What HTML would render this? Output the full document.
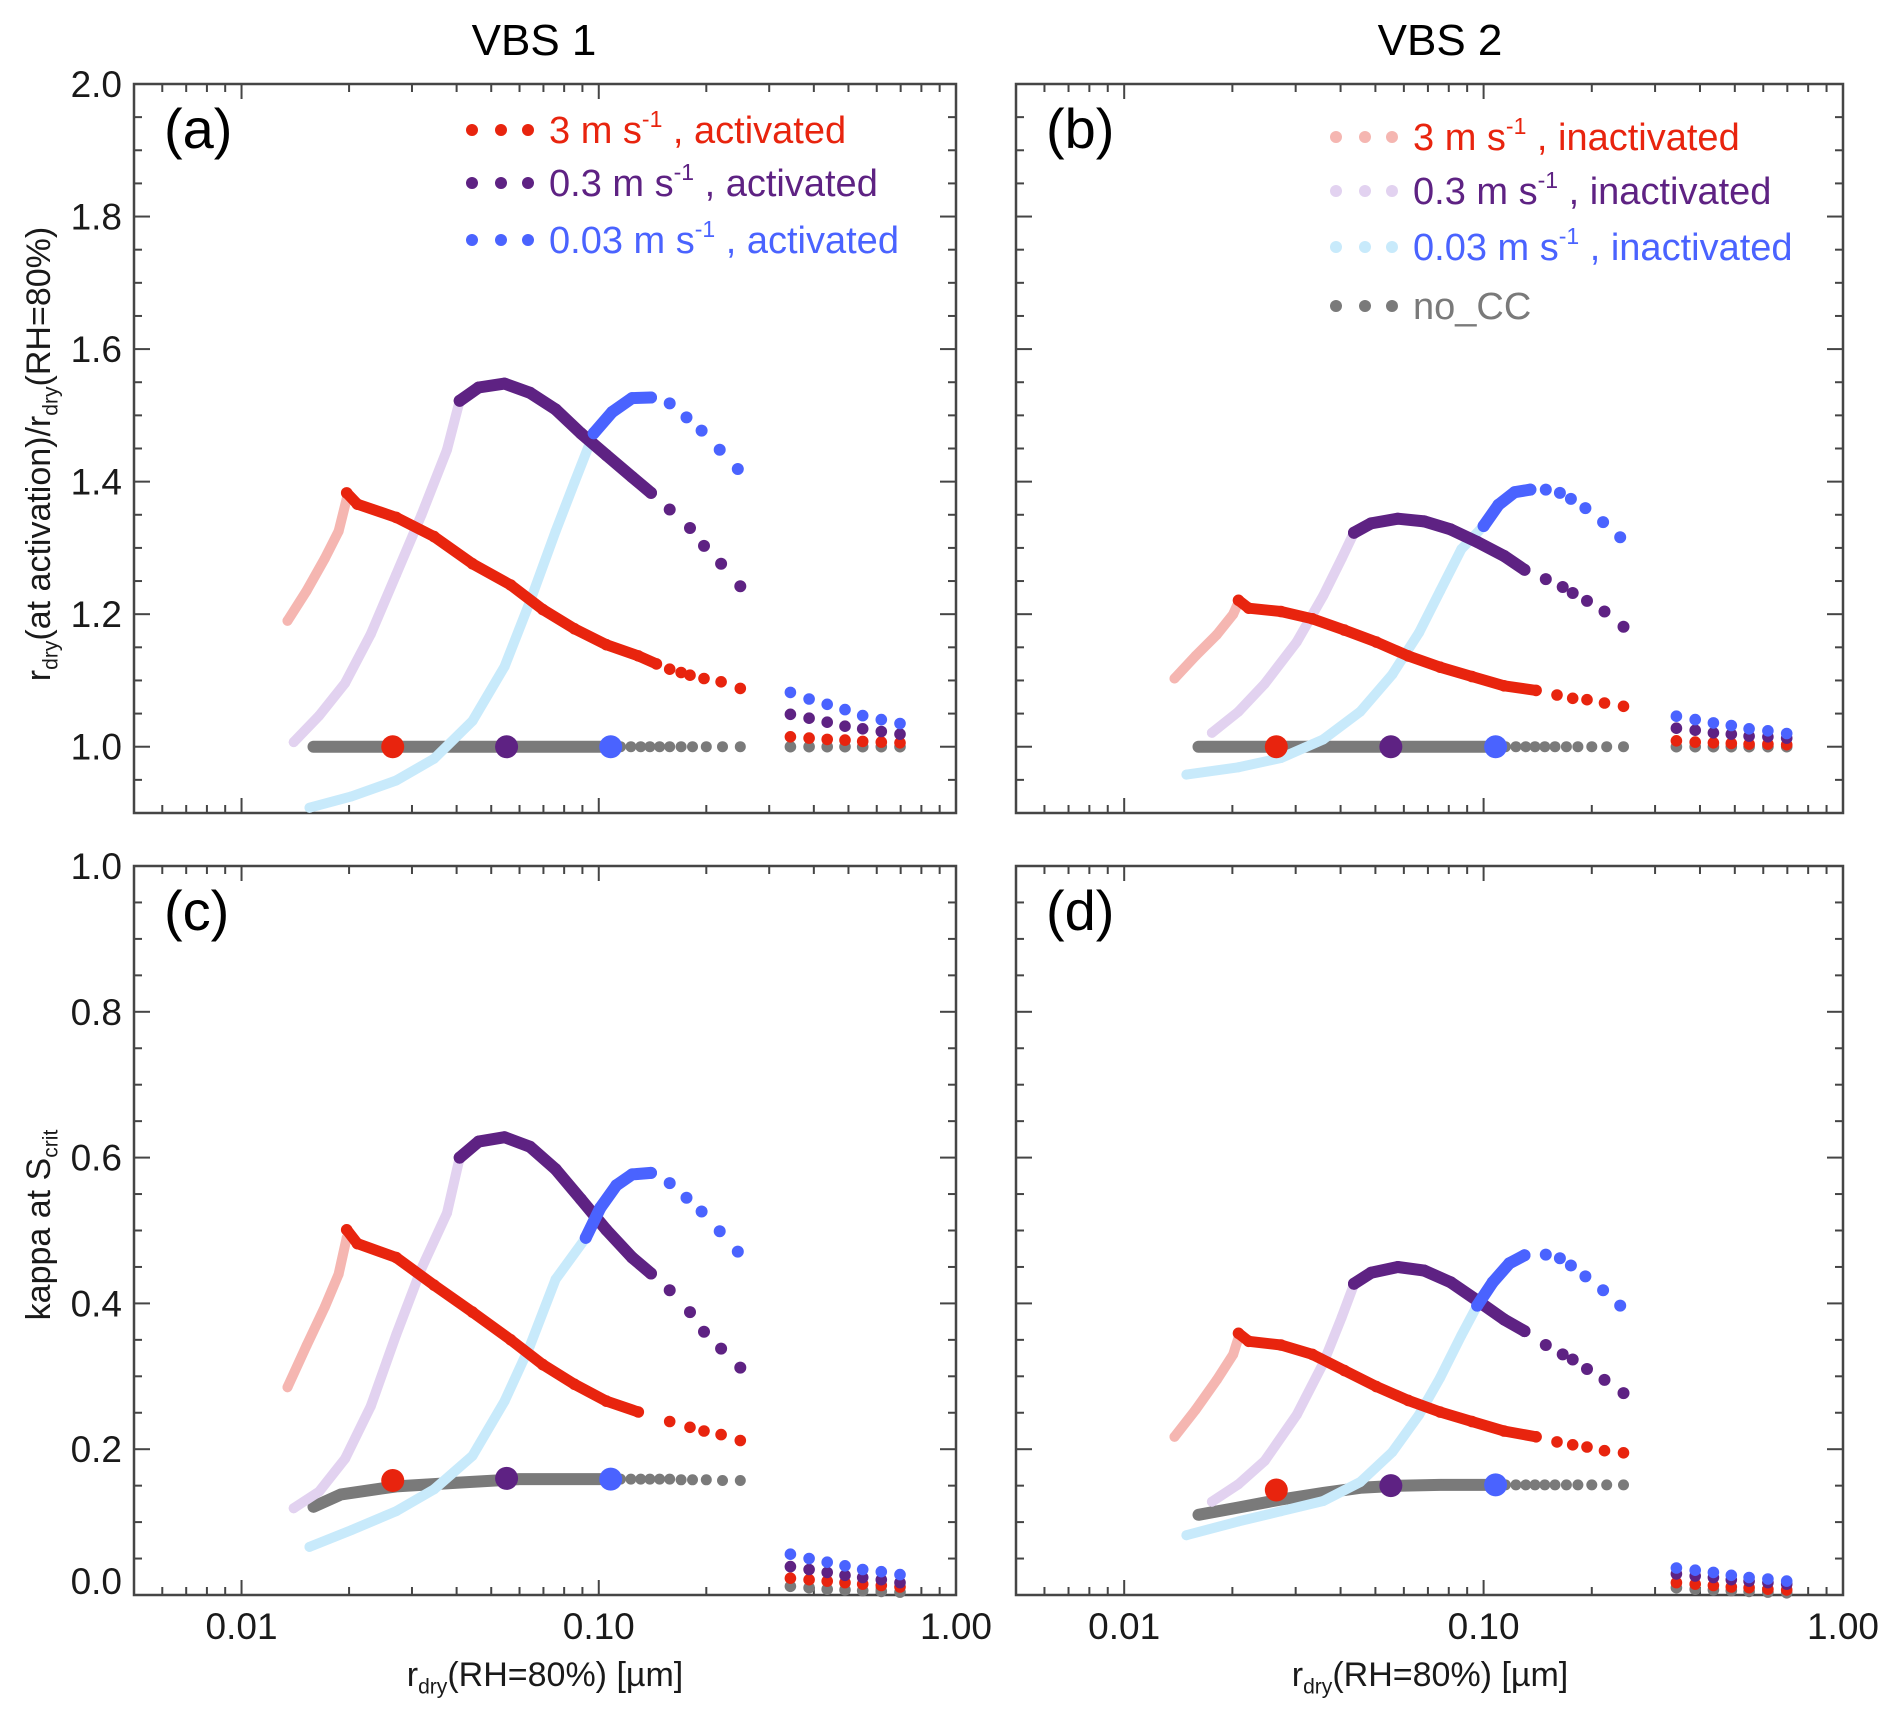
<!DOCTYPE html>
<html><head><meta charset="utf-8"><style>
html,body{margin:0;padding:0;background:#fff;}
#wrap{position:relative;width:1892px;height:1713px;overflow:hidden;font-family:"Liberation Sans",Arial,sans-serif;}
svg{position:absolute;left:0;top:0;}
</style></head><body>
<div id="wrap">
<svg id="chart" width="1892" height="1713" viewBox="0 0 1892 1713"></svg>
</div>
<script>
// ---------- DATA ----------
const xTicksLabels = ["0.01","0.10","1.00"];
const xTickVals = [0.01,0.1,1.0];
const yTicksA = [1.0,1.2,1.4,1.6,1.8,2.0];
const yTickLabelsA = ["1.0","1.2","1.4","1.6","1.8","2.0"];
const yTicksC = [0.0,0.2,0.4,0.6,0.8,1.0];
const yTickLabelsC = ["0.0","0.2","0.4","0.6","0.8","1.0"];
const xRight = [0.344,0.388,0.436,0.489,0.548,0.618,0.697];
const markerX = [0.0265,0.0552,0.108];

// Panel (a)
const aRedIn = [[0.01345,1.19],[0.0152,1.235],[0.0171,1.284],[0.0187,1.325],[0.0197,1.374]];
const aRedAct = [[0.0197,1.383],[0.0211,1.366],[0.0271,1.346],[0.0346,1.317],[0.0443,1.276],[0.0567,1.244],[0.0697,1.207],[0.0855,1.178],[0.105,1.154],[0.129,1.137],[0.145,1.125],[0.158,1.117],[0.170,1.112],[0.180,1.108],[0.197,1.103],[0.220,1.098],[0.249,1.088]];
const aPurIn = [[0.0140,1.007],[0.0165,1.047],[0.0195,1.096],[0.0230,1.17],[0.0271,1.26],[0.0319,1.35],[0.0376,1.448],[0.0408,1.522]];
const aPurAct = [[0.0408,1.522],[0.0461,1.542],[0.0545,1.548],[0.0642,1.534],[0.0757,1.509],[0.0891,1.473],[0.105,1.44],[0.124,1.407],[0.140,1.383],[0.158,1.358],[0.180,1.33],[0.197,1.303],[0.220,1.276],[0.249,1.242]];
const aBluIn = [[0.0155,0.908],[0.0203,0.925],[0.0271,0.949],[0.0346,0.982],[0.0443,1.039],[0.0545,1.121],[0.0642,1.219],[0.0757,1.325],[0.0855,1.399],[0.0968,1.473]];
const aBluAct = [[0.0968,1.473],[0.109,1.505],[0.124,1.526],[0.140,1.527],[0.158,1.518],[0.176,1.497],[0.194,1.477],[0.218,1.448],[0.245,1.419]];
const aGray = [[0.0159,1.0],[0.108,1.0],[0.115,1.0],[0.123,1.0],[0.131,1.0],[0.139,1.0],[0.148,1.0],[0.158,1.0],[0.170,1.0],[0.183,1.0],[0.200,1.0],[0.222,1.0],[0.249,1.0]];
const aMarkY = [1.0,1.0,1.0];
const aRightBlue = [1.082,1.072,1.064,1.056,1.047,1.041,1.035];
const aRightPur = [1.049,1.043,1.037,1.031,1.027,1.023,1.019];
const aRightRed = [1.015,1.013,1.011,1.010,1.008,1.007,1.006];
const aRightGray = [1.0,1.0,1.0,1.0,1.0,1.0,1.0];

// Panel (b)
const bRedIn = [[0.0138,1.103],[0.0158,1.137],[0.0181,1.169],[0.0201,1.2],[0.0208,1.218]];
const bRedAct = [[0.0208,1.221],[0.0222,1.209],[0.0273,1.204],[0.0334,1.193],[0.0410,1.176],[0.0503,1.158],[0.0617,1.137],[0.0757,1.12],[0.0928,1.106],[0.114,1.092],[0.140,1.085],[0.160,1.078],[0.177,1.073],[0.194,1.071],[0.217,1.066],[0.245,1.061]];
const bPurIn = [[0.01754,1.021],[0.0208,1.053],[0.0246,1.095],[0.0302,1.158],[0.0358,1.228],[0.0403,1.284],[0.0436,1.323]];
const bPurAct = [[0.0436,1.323],[0.0486,1.337],[0.0577,1.344],[0.0684,1.34],[0.081,1.328],[0.096,1.309],[0.114,1.288],[0.130,1.267],[0.149,1.253],[0.166,1.241],[0.177,1.232],[0.194,1.22],[0.217,1.204],[0.245,1.181]];
const bBluIn = [[0.0149,0.958],[0.0208,0.969],[0.0273,0.983],[0.0358,1.011],[0.0454,1.053],[0.0557,1.109],[0.0661,1.172],[0.0757,1.235],[0.0867,1.298],[0.100,1.333]];
const bBluAct = [[0.100,1.333],[0.110,1.365],[0.122,1.384],[0.135,1.388],[0.149,1.388],[0.163,1.383],[0.175,1.374],[0.192,1.36],[0.215,1.339],[0.240,1.316]];
const bGray = [[0.0161,1.0],[0.108,1.0],[0.115,1.0],[0.123,1.0],[0.131,1.0],[0.139,1.0],[0.148,1.0],[0.158,1.0],[0.170,1.0],[0.183,1.0],[0.200,1.0],[0.220,1.0],[0.245,1.0]];
const bMarkY = [1.0,1.0,1.0];
const bRightBlue = [1.046,1.041,1.036,1.032,1.027,1.024,1.020];
const bRightPur = [1.028,1.025,1.021,1.019,1.016,1.015,1.013];
const bRightRed = [1.009,1.007,1.006,1.005,1.004,1.004,1.003];
const bRightGray = [1.0,1.0,1.0,1.0,1.0,1.0,1.0];

// Panel (c)
const cRedIn = [[0.01345,0.285],[0.0152,0.342],[0.0171,0.395],[0.0187,0.44],[0.0197,0.49]];
const cRedAct = [[0.0197,0.501],[0.0211,0.482],[0.0271,0.463],[0.0346,0.425],[0.0443,0.388],[0.0567,0.35],[0.0697,0.316],[0.0855,0.289],[0.105,0.266],[0.129,0.251],[0.158,0.238],[0.180,0.23],[0.197,0.225],[0.220,0.22],[0.249,0.212]];
const cPurIn = [[0.0140,0.119],[0.0165,0.142],[0.0195,0.187],[0.0230,0.259],[0.0271,0.357],[0.0319,0.448],[0.0376,0.524],[0.0408,0.6]];
const cPurAct = [[0.0408,0.6],[0.0461,0.622],[0.0545,0.628],[0.0642,0.615],[0.0757,0.584],[0.0891,0.543],[0.105,0.501],[0.124,0.463],[0.140,0.441],[0.158,0.418],[0.180,0.388],[0.197,0.361],[0.220,0.338],[0.249,0.312]];
const cBluIn = [[0.0155,0.066],[0.0203,0.089],[0.0271,0.115],[0.0346,0.145],[0.0443,0.191],[0.0545,0.266],[0.0642,0.342],[0.0757,0.433],[0.0920,0.49]];
const cBluAct = [[0.0920,0.49],[0.101,0.531],[0.112,0.562],[0.124,0.577],[0.140,0.579],[0.158,0.565],[0.176,0.545],[0.194,0.526],[0.218,0.499],[0.245,0.471]];
const cGray = [[0.0159,0.121],[0.0190,0.138],[0.0271,0.149],[0.040,0.154],[0.060,0.159],[0.108,0.159],[0.115,0.159],[0.123,0.159],[0.131,0.159],[0.139,0.159],[0.148,0.159],[0.158,0.159],[0.170,0.158],[0.183,0.158],[0.200,0.158],[0.222,0.157],[0.249,0.157]];
const cMarkY = [0.157,0.160,0.159];
const cRightBlue = [0.056,0.050,0.045,0.040,0.035,0.032,0.028];
const cRightPur = [0.039,0.035,0.031,0.027,0.024,0.021,0.017];
const cRightRed = [0.023,0.021,0.019,0.017,0.015,0.013,0.011];
const cRightGray = [0.012,0.010,0.008,0.007,0.006,0.005,0.004];

// Panel (d)
const dRedIn = [[0.0138,0.217],[0.0158,0.254],[0.0181,0.295],[0.0201,0.33],[0.0208,0.353]];
const dRedAct = [[0.0208,0.359],[0.0222,0.348],[0.0273,0.343],[0.0334,0.33],[0.0410,0.308],[0.0503,0.286],[0.0617,0.267],[0.0757,0.251],[0.0928,0.238],[0.114,0.225],[0.140,0.217],[0.160,0.21],[0.177,0.206],[0.194,0.203],[0.217,0.198],[0.245,0.195]];
const dPurIn = [[0.01754,0.128],[0.0208,0.152],[0.0246,0.184],[0.0302,0.247],[0.0358,0.318],[0.0403,0.381],[0.0436,0.426]];
const dPurAct = [[0.0436,0.427],[0.0486,0.442],[0.0577,0.45],[0.0684,0.445],[0.081,0.429],[0.096,0.404],[0.114,0.378],[0.130,0.362],[0.149,0.343],[0.166,0.33],[0.177,0.323],[0.194,0.31],[0.217,0.295],[0.245,0.277]];
const dBluIn = [[0.0149,0.082],[0.0208,0.101],[0.0273,0.115],[0.0358,0.129],[0.0454,0.155],[0.0557,0.196],[0.0661,0.247],[0.0757,0.298],[0.0867,0.356],[0.096,0.397]];
const dBluAct = [[0.096,0.397],[0.106,0.429],[0.118,0.455],[0.130,0.466],[0.149,0.467],[0.163,0.462],[0.175,0.452],[0.192,0.437],[0.215,0.418],[0.240,0.397]];
const dGray = [[0.0161,0.110],[0.0208,0.120],[0.0273,0.131],[0.0358,0.140],[0.0454,0.147],[0.058,0.150],[0.0757,0.151],[0.108,0.151],[0.115,0.151],[0.123,0.151],[0.131,0.151],[0.139,0.151],[0.148,0.151],[0.158,0.151],[0.170,0.151],[0.183,0.151],[0.200,0.151],[0.220,0.151],[0.245,0.151]];
const dMarkY = [0.144,0.150,0.151];
const dRightBlue = [0.037,0.034,0.031,0.027,0.024,0.022,0.019];
const dRightPur = [0.029,0.026,0.024,0.021,0.019,0.017,0.015];
const dRightRed = [0.017,0.015,0.013,0.011,0.010,0.008,0.007];
const dRightGray = [0.010,0.008,0.007,0.006,0.005,0.004,0.003];

// ---------- RENDER ----------
const NS = "http://www.w3.org/2000/svg";
const svg = document.getElementById("chart");
const X0 = 0.005, X1 = 1.0;
const C = {red:"#e8240e", pur:"#5e2283", blu:"#4a63ff", pred:"#f5b6b1", ppur:"#e2d2f0", pblu:"#c8eafb", gray:"#7a7a7a", axis:"#454545"};

function mk(tag, attrs, parent){
  const e = document.createElementNS(NS, tag);
  for (const k in attrs) e.setAttribute(k, attrs[k]);
  (parent||svg).appendChild(e);
  return e;
}
function sx(p,x){ return p.l + (Math.log10(x)-Math.log10(X0))/(Math.log10(X1)-Math.log10(X0))*(p.r-p.l); }
function sy(p,y){ return p.b - (y-p.y0)/(p.y1-p.y0)*(p.b-p.t); }

function drawSeries(p, g, data, color, tail, w, r, name){
  const sg = mk("g", {}, g);
  
  
  let pts = [];
  for (let i=0;i<data.length;i++){
    if (data[i][0] <= tail) pts.push(sx(p,data[i][0]).toFixed(1)+","+sy(p,data[i][1]).toFixed(1));
  }
  if (pts.length>1){
    const pl = mk("polyline", {points:pts.join(" "), fill:"none", stroke:color, "stroke-width":w, "stroke-linecap":"round", "stroke-linejoin":"round"}, sg);
    
    
  }
  for (let i=0;i<data.length;i++){
    const c = mk("circle", {cx:sx(p,data[i][0]).toFixed(1), cy:sy(p,data[i][1]).toFixed(1), r:r, fill:color}, sg);
    
    
  }
}
function drawRight(p, g, ys, color, name){
  for (let i=0;i<xRight.length;i++){
    const c = mk("circle", {cx:sx(p,xRight[i]).toFixed(1), cy:sy(p,ys[i]).toFixed(1), r:5.8, fill:color}, g);
    
    
  }
}
function text(x,y,str,size,anchor,parent,name,extra){
  const t = mk("text", Object.assign({x:x,y:y,"font-size":size,"text-anchor":anchor||"middle","font-family":"Liberation Sans, Arial, sans-serif",fill:"#1a1a1a"}, extra||{}), parent);
  t.textContent = str;
  
  
  return t;
}

function drawPanel(p, label, S, yt, ytl, showX){
  const g = mk("g", {});
  
  
  const fr = mk("rect", {x:p.l, y:p.t, width:p.r-p.l, height:p.b-p.t, fill:"none", stroke:C.axis, "stroke-width":2.5}, g);
  
  
  for (let dec=-3; dec<=0; dec++){
    for (let m=1;m<=9;m++){
      const v = m*Math.pow(10,dec);
      if (v < X0*0.999 || v > X1*1.001) continue;
      const X = sx(p,v), L = (m===1)?15:8;
      const t1 = mk("line",{x1:X,x2:X,y1:p.b,y2:p.b-L,stroke:C.axis,"stroke-width":2},g);
      
      
      const t2 = mk("line",{x1:X,x2:X,y1:p.t,y2:p.t+L,stroke:C.axis,"stroke-width":2},g);
      
      
    }
  }
  for (let k=0;k<=Math.round((p.y1-p.y0)/0.05);k++){
    const v = p.y0 + k*0.05;
    const isMaj = Math.abs(v*5 - Math.round(v*5))<1e-6;
    const Y = sy(p,v), L = isMaj?16:8;
    const t1 = mk("line",{x1:p.l,x2:p.l+L,y1:Y,y2:Y,stroke:C.axis,"stroke-width":2},g);
    
    
    const t2 = mk("line",{x1:p.r,x2:p.r-L,y1:Y,y2:Y,stroke:C.axis,"stroke-width":2},g);
    
    
  }
  if (yt){
    for (let i=0;i<yt.length;i++){
      let Y = sy(p,yt[i]) + 13;
      if (yt[i]===0) Y -= 14;
      text(p.l-12, Y, ytl[i], 37, "end", g, 'y-tick-label');
    }
  }
  if (showX){
    for (let i=0;i<xTickVals.length;i++){
      text(sx(p,xTickVals[i]), p.b+44, xTicksLabels[i], 37, "middle", g, 'x-tick-label');
    }
  }
  drawSeries(p,g,S.gray,C.gray,S.grayTail,12,5.5,'no-cc-series');
  drawSeries(p,g,S.redIn,C.pred,1,10,5,'red-3ms-inactivated');
  drawSeries(p,g,S.purIn,C.ppur,1,10,5,'purple-03ms-inactivated');
  drawSeries(p,g,S.bluIn,C.pblu,1,10,5,'blue-003ms-inactivated');
  drawSeries(p,g,S.redAct,C.red,0.15,11,5.8,'red-3ms-activated');
  drawSeries(p,g,S.purAct,C.pur,0.145,12,6,'purple-03ms-activated');
  drawSeries(p,g,S.bluAct,C.blu,0.145,12,6,'blue-003ms-activated');
  drawRight(p,g,S.rGray,C.gray,'no-cc-large-dot');
  drawRight(p,g,S.rRed,C.red,'red-large-dot');
  drawRight(p,g,S.rPur,C.pur,'purple-large-dot');
  drawRight(p,g,S.rBlu,C.blu,'blue-large-dot');
  const mcol = [C.red,C.pur,C.blu];
  for (let i=0;i<3;i++){
    const m = mk("circle",{cx:sx(p,markerX[i]),cy:sy(p,S.mark[i]),r:11.5,fill:mcol[i]},g);
    
    
  }
  text(p.l+30, p.t+64, "("+label+")", 56, "start", g, 'panel-label', {fill:"#000"});
  return g;
}

const PA = {l:134,r:956,t:84,b:813,y0:0.9,y1:2.0};
const PB = {l:1016,r:1843,t:84,b:813,y0:0.9,y1:2.0};
const PC = {l:134,r:956,t:866,b:1595,y0:0.0,y1:1.0};
const PD = {l:1016,r:1843,t:866,b:1595,y0:0.0,y1:1.0};

drawPanel(PA,"a",{gray:aGray,grayTail:0.11,redIn:aRedIn,purIn:aPurIn,bluIn:aBluIn,redAct:aRedAct,purAct:aPurAct,bluAct:aBluAct,rGray:aRightGray,rRed:aRightRed,rPur:aRightPur,rBlu:aRightBlue,mark:aMarkY},yTicksA,yTickLabelsA,false);
drawPanel(PB,"b",{gray:bGray,grayTail:0.11,redIn:bRedIn,purIn:bPurIn,bluIn:bBluIn,redAct:bRedAct,purAct:bPurAct,bluAct:bBluAct,rGray:bRightGray,rRed:bRightRed,rPur:bRightPur,rBlu:bRightBlue,mark:bMarkY},null,null,false);
drawPanel(PC,"c",{gray:cGray,grayTail:0.11,redIn:cRedIn,purIn:cPurIn,bluIn:cBluIn,redAct:cRedAct,purAct:cPurAct,bluAct:cBluAct,rGray:cRightGray,rRed:cRightRed,rPur:cRightPur,rBlu:cRightBlue,mark:cMarkY},yTicksC,yTickLabelsC,true);
drawPanel(PD,"d",{gray:dGray,grayTail:0.11,redIn:dRedIn,purIn:dPurIn,bluIn:dBluIn,redAct:dRedAct,purAct:dPurAct,bluAct:dBluAct,rGray:dRightGray,rRed:dRightRed,rPur:dRightPur,rBlu:dRightBlue,mark:dMarkY},null,null,true);

text(534, 55, "VBS 1", 44, "middle", svg, 'column-title-vbs1', {fill:"#000"});
text(1440, 55, "VBS 2", 44, "middle", svg, 'column-title-vbs2', {fill:"#000"});

function richText(x,y,parts,size,anchor,rot,name){
  const t = mk("text",{x:x,y:y,"font-size":size,"text-anchor":anchor,"font-family":"Liberation Sans, Arial, sans-serif",fill:"#1a1a1a"});
  if (rot) t.setAttribute("transform","rotate(-90 "+x+" "+y+")");
  
  
  for (const pp of parts){
    const ts = mk("tspan",{},t);
    if (pp[1]==="sub"){ ts.setAttribute("font-size", size*0.62); ts.setAttribute("dy", size*0.22); }
    else if (pp[1]==="back"){ ts.setAttribute("dy", -size*0.22); }
    ts.textContent = pp[0];
  }
  return t;
}
richText(50, 454, [["r",""],["dry","sub"],["(at activation)/r","back"],["dry","sub"],["(RH=80%)","back"]], 34, "middle", true, 'y-axis-title-top');
richText(50, 1225, [["kappa at S",""],["crit","sub"]], 34, "middle", true, 'y-axis-title-bottom');
richText(545, 1686, [["r",""],["dry","sub"],["(RH=80%) [\u00b5m]","back"]], 34, "middle", false, 'x-axis-title-left');
richText(1430, 1686, [["r",""],["dry","sub"],["(RH=80%) [\u00b5m]","back"]], 34, "middle", false, 'x-axis-title-right');

const legA = [["3 m s","-1"," , activated",C.red,C.red,130],["0.3 m s","-1"," , activated",C.pur,C.pur,183],["0.03 m s","-1","  , activated",C.blu,C.blu,240]];
const legB = [["3 m s","-1"," , inactivated",C.pred,C.red,137],["0.3 m s","-1"," , inactivated",C.ppur,C.pur,191],["0.03 m s","-1"," , inactivated",C.pblu,C.blu,247]];
function legend(items, dx, tx, name){
  const g = mk("g",{});
  
  
  for (const it of items){
    const eg = mk("g",{},g);
    
    
    for (const d of dx){ mk("circle",{cx:d,cy:it[5],r:6,fill:it[3]},eg); }
    const t = mk("text",{x:tx,y:it[5]+13,"font-size":38,"font-family":"Liberation Sans, Arial, sans-serif",fill:it[4]},eg);
    const a = mk("tspan",{},t); a.textContent = it[0];
    const b = mk("tspan",{"font-size":23,dy:-16},t); b.textContent = it[1];
    const c = mk("tspan",{dy:16},t); c.textContent = it[2];
  }
  return g;
}
legend(legA,[472,501,528],549,'legend-vbs1');
const lgB = legend(legB,[1336,1365,1392],1413,'legend-vbs2');
const ng = mk("g",{},lgB);


for (const d of [1336,1365,1392]) mk("circle",{cx:d,cy:306,r:6,fill:C.gray},ng);
const nt = mk("text",{x:1413,y:319,"font-size":38,"font-family":"Liberation Sans, Arial, sans-serif",fill:C.gray},ng);
nt.textContent = "no_CC";
</script>
</body></html>
